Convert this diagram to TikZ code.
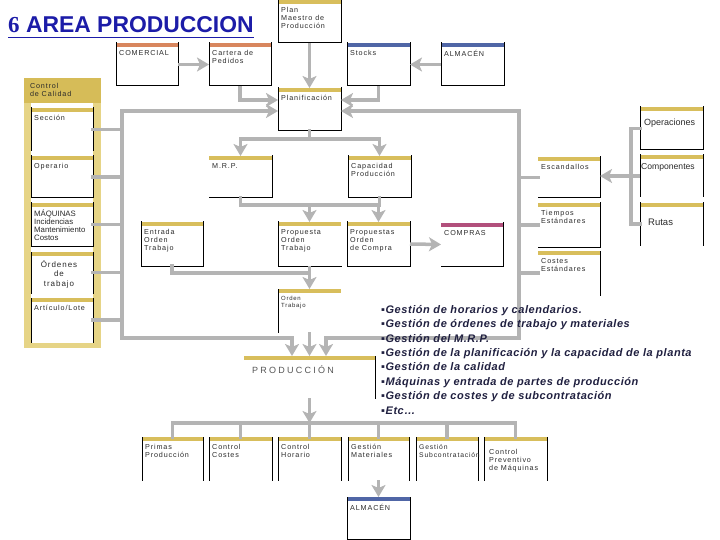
\documentclass[tikz,border=0pt]{standalone}
\usepackage{fontspec}
\setmainfont{Liberation Sans}
\newfontfamily\boxfont{Liberation Sans}[LetterSpace=12]
\newfontfamily\prodfont{Liberation Sans}[LetterSpace=25]
\newfontfamily\listfont{Liberation Sans}[LetterSpace=5]
\newfontfamily\titleserif{Liberation Serif}
\usetikzlibrary{arrows.meta,calc}
\definecolor{goldb}{HTML}{D8BE5C}
\definecolor{goldpale}{HTML}{E6D486}
\definecolor{goldhead}{HTML}{D6BC58}
\definecolor{orangeb}{HTML}{D8865E}
\definecolor{blueb}{HTML}{5066A6}
\definecolor{purpleb}{HTML}{B2507C}
\definecolor{lgray}{HTML}{B4B4B4}
\definecolor{txt}{HTML}{2A2A2A}
\definecolor{listc}{HTML}{202040}
\definecolor{titleblue}{HTML}{1C1CA8}
\definecolor{prodgray}{HTML}{555555}
\newcommand\sL{\draw[bord] (\cur.north west) -- (\cur.south west);}
\newcommand\sR{\draw[bord] (\cur.north east) -- (\cur.south east);}
\newcommand\sB{\draw[bord] (\cur.south west) -- (\cur.south east);}
\newcommand\sF{\draw[bord] (\cur.north west) -- (\cur.south west) -- (\cur.south east) -- (\cur.north east);}
% [text opts]{name}{x1}{y1}{x2}{y2}{bar colour}{sides}{text}
\newcommand\bx[9][]{%
  \pgfmathsetmacro\bw{#5-#3}\pgfmathsetmacro\bh{#6-#4}%
  \pgfmathsetmacro\bcx{(#3+#5)/2}\pgfmathsetmacro\bcy{(#4+#6)/2}%
  \node[boxn, minimum width=\bw pt, minimum height=\bh pt] (#2) at (\bcx,\bcy) {};
  \fill[#7] (#2.north west) rectangle ([yshift=-4pt]#2.north east);
  \def\cur{#2}#8
  \node[boxtext,#1] (#2-t) at ([shift={(3pt,-7pt)}]#2.north west) {#9};
}
\begin{document}
\begin{tikzpicture}[x=1pt,y=-1pt,
  boxn/.style={rectangle, inner sep=0pt, outer sep=0pt},
  bord/.style={draw=black, line width=1pt, line cap=rect},
  boxtext/.style={anchor=north west, inner sep=0pt, align=left,
    font=\boxfont\fontsize{7.2}{8}\selectfont, text=txt},
  conn/.style={draw=lgray, line width=3.5pt},
  line/.style={conn, line cap=rect},
  arr/.style={conn, -{Stealth[length=12pt,width=14pt,inset=3pt]}},
  arr2/.style={conn, {Stealth[length=12pt,width=14pt,inset=3pt]}-{Stealth[length=12pt,width=14pt,inset=3pt]}}]
\useasboundingbox (0,0) rectangle (720,540);

% title
\node[anchor=base west, inner sep=0pt, text=titleblue,
  font=\bfseries\fontsize{22.9}{26}\selectfont] (title) at (8,33)
  {{\titleserif\bfseries 6} AREA PRODUCCION};
\draw[titleblue, line width=1.6pt] ([yshift=-4.5pt]title.base west) -- ([yshift=-4.5pt]title.base east);

% Control de Calidad frame
\node[rectangle, inner sep=0pt, fill=goldpale, minimum width=77pt, minimum height=270pt] (calidad) at (62.5,213) {};
\fill[goldhead] (calidad.north west) rectangle ($(calidad.north east)+(0,25)$);
\fill[white] ($(calidad.north west)+(7,25)$) rectangle ($(calidad.south east)+(-8,-5)$);
\node[boxtext, font=\boxfont\fontsize{7.2}{8.5}\selectfont] (calidad-t) at ($(calidad.north west)+(6,5)$) {Control\\de Calidad};

\bx{seccion}{31}{108}{93}{151}{goldb}{\sL\sR}{Sección}
\bx{operario}{31}{156}{93}{198}{goldb}{\sF}{Operario}
\bx[font=\fontsize{7.8}{7.7}\selectfont]{maquinas}{31}{203}{93}{246}{goldb}{\sF}{MÁQUINAS\\Incidencias\\Mantenimiento\\Costos}
\bx[anchor=north, align=center, xshift=25pt, yshift=-1pt, font=\boxfont\fontsize{8}{9.5}\selectfont]{ordenes}{31}{252}{93}{293}{goldb}{\sL\sR}{Órdenes\\de\\trabajo}
\bx{articulo}{31}{298}{93}{342}{goldb}{\sL\sR}{Artículo/Lote}

% top area
\bx{plan}{278}{0}{341}{43}{goldb}{\sF}{Plan\\Maestro de\\Producción}
\bx{comercial}{116}{43}{178}{86}{orangeb}{\sF}{COMERCIAL}
\bx{cartera}{209}{43}{271}{86}{orangeb}{\sF}{Cartera de\\Pedidos}
\bx{stocks}{347}{43}{410}{86}{blueb}{\sF}{Stocks}
\bx{almacen}{441}{43}{504}{86}{blueb}{\sF}{ALMACÉN}
\bx{planif}{278}{88}{341}{131}{goldb}{\sF}{Planificación}
\bx{mrp}{209}{156}{272}{198}{goldb}{\sB\sR}{M.R.P.}
\bx{capac}{348}{156}{411}{198}{goldb}{\sF}{Capacidad\\Producción}
\bx{entrada}{141}{222}{203}{266}{goldb}{\sF}{Entrada\\Orden\\Trabajo}
\bx{propot}{278}{222}{341}{266}{goldb}{\sL\sB}{Propuesta\\Orden\\Trabajo}
\bx{propoc}{347}{222}{410}{266}{goldb}{\sF}{Propuestas\\Orden\\de Compra}
\bx{compras}{441}{223}{503}{266}{purpleb}{\sB\sR}{COMPRAS}
\bx[font=\boxfont\fontsize{6}{7}\selectfont]{orden}{278}{289}{341}{332}{goldb}{\sL}{Orden\\Trabajo}
\bx[font=\prodfont\fontsize{9}{10}\selectfont, text=prodgray, xshift=5pt, yshift=-2pt]{produccion}{244}{356}{375}{398}{goldb}{\sR}{PRODUCCIÓN}

% right area
\bx{escand}{538}{157}{600}{198}{goldb}{\sB\sR}{Escandallos}
\bx{tiempos}{538}{203}{600}{247}{goldb}{\sB\sR}{Tiempos\\Estándares}
\bx{costes}{538}{251}{600}{295}{goldb}{\sR}{Costes\\Estándares}
\bx[font=\fontsize{9}{10}\selectfont, xshift=1pt, yshift=-5pt]{operac}{640}{107}{703}{150}{goldb}{\sF}{Operaciones}
\bx[font=\fontsize{8.6}{10}\selectfont, xshift=-2pt, yshift=-1pt]{compon}{640}{155}{703}{197}{goldb}{\sL\sR}{Componentes}
\bx[font=\fontsize{9.5}{10}\selectfont, xshift=5pt, yshift=-9pt]{rutas}{640}{203}{703}{245}{goldb}{\sL\sR}{Rutas}

% bottom row
\bx{primas}{142}{437}{203}{480}{goldb}{\sL\sR}{Primas\\Producción}
\bx{ctrlcost}{209}{437}{272}{480}{goldb}{\sL\sR}{Control\\Costes}
\bx{ctrlhor}{278}{437}{341}{480}{goldb}{\sL\sR}{Control\\Horario}
\bx{gestmat}{348}{437}{409}{480}{goldb}{\sL\sR}{Gestión\\Materiales}
\bx[font=\boxfont\fontsize{6.8}{8}\selectfont]{gestsub}{416}{437}{478}{480}{goldb}{\sL\sR}{Gestión\\Subcontratación}
\bx[yshift=-5pt, xshift=2pt]{ctrlprev}{484}{437}{547}{480}{goldb}{\sL\sR}{Control\\Preventivo\\de Máquinas}
\bx{almacen2}{347}{497}{410}{539}{blueb}{\sF}{ALMACÉN}

% connectors
\draw[arr] (comercial.east) -- (cartera.west);
\draw[arr] (almacen.west) -- (stocks.east);
\draw[arr] (plan.south) -- (planif.north);
\draw[arr] (cartera.south) |- ($(planif.north west)+(0,12)$);
\draw[arr] (stocks.south) |- ($(planif.north east)+(0,12)$);
\coordinate (L1) at (122,338);
\coordinate (R1) at (519,338);
\draw[arr2] ($(planif.north west)+(0,23)$) -| (L1) -| ($(produccion.north west)+(48,0)$);
\draw[arr2] ($(planif.north east)+(0,23)$) -| (R1) -| ($(produccion.north west)+(82,0)$);
\foreach \n in {seccion,operario,maquinas,ordenes,articulo}
  \draw[line] (\n.east) -- (\n.east -| L1);
\foreach \n in {escand,tiempos,costes}
  \draw[line] (\n.west) -- (\n.west -| R1);
\draw[line] (operac.west) -- ++(-9,0) |- (rutas.west);
\draw[arr] (compon.west) -- (compon.west -| escand.east);

\coordinate (pj) at ($(planif.south)+(0,8)$);
\draw[line] (planif.south) -- (pj);
\draw[arr] (pj) -| (mrp.north);
\draw[arr] (pj) -| (capac.north);

\coordinate (mj) at ($(mrp.south)+(0,7)$);
\draw[line] (mrp.south) -- (mj) -- (mj -| capac.south) -- (capac.south);
\draw[arr] (mj -| propot.north) -- (propot.north);
\draw[arr] (mj -| propoc.north) -- (propoc.north);
\draw[arr] (propoc.east) -- (compras.west);

\coordinate (ej) at ($(propot.south)+(0,7)$);
\draw[line] (entrada.south) |- (ej);
\draw[arr] (propot.south) -- (orden.north);
\draw[arr] (orden.south) -- (orden.south |- produccion.north);

\coordinate (bj) at ($(produccion.south)+(0,25)$);
\draw[arr] (produccion.south) -- (bj);
\draw[line] (primas.north |- bj) -- (ctrlprev.north |- bj);
\foreach \n in {primas,ctrlcost,ctrlhor,gestmat,gestsub,ctrlprev}
  \draw[line] (\n.north) -- (\n.north |- bj);
\draw[arr] (gestmat.south) -- (almacen2.north);

% list
\node[anchor=north west, inner sep=0pt, align=left, text=listc,
  font=\listfont\bfseries\itshape\fontsize{11}{14.4}\selectfont] (lista) at (381,305)
  {▪Gestión de horarios y calendarios.\\
   ▪Gestión de órdenes de trabajo y materiales\\
   ▪Gestión del M.R.P.\\
   ▪Gestión de la planificación y la capacidad de la planta\\
   ▪Gestión de la calidad\\
   ▪Máquinas y entrada de partes de producción\\
   ▪Gestión de costes y de subcontratación\\
   ▪Etc…};
\end{tikzpicture}
\end{document}
